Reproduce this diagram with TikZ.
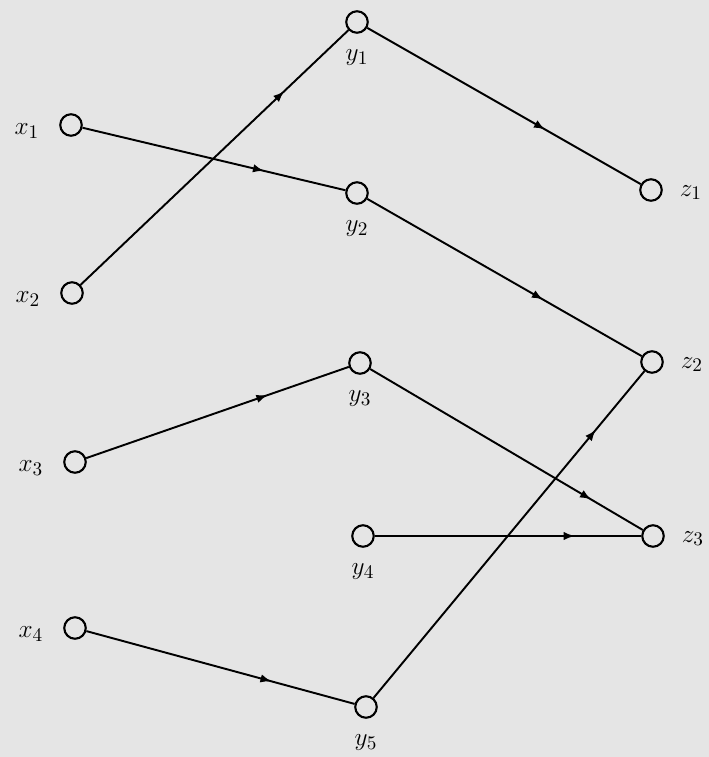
\documentclass[tikz,border=0pt]{standalone}
\usepackage{amsmath}
\usepackage{tikz}
\usetikzlibrary{positioning}
\usetikzlibrary{arrows.meta}
\usetikzlibrary{decorations.markings}

\begin{document}
\begin{tikzpicture}[
    x=0.02cm, y=-0.02cm,
    node distance=0.4cm,
    vertex/.style={draw, circle, line width=1.2pt, minimum size=0.43cm, inner sep=0pt, fill=black!10},
    tag/.style={inner sep=1pt, font=\fontsize{15}{18}\selectfont},
    flow/.style={line width=1.1pt, postaction={decorate},
      decoration={markings, mark=at position #1 with {\arrow{Latex[length=2.2mm,width=1.7mm]}}}},
    flow/.default=0.7
  ]
    % paper
    \fill[black!10] (0,0) rectangle (709,757);

    % first column
    \node[vertex] (x1) at (71,125) {};
    \node[vertex] (x2) at (72,293) {};
    \node[vertex] (x3) at (75,462) {};
    \node[vertex] (x4) at (75,628) {};

    % middle column
    \node[vertex] (y1) at (357,22) {};
    \node[vertex] (y2) at (357,193) {};
    \node[vertex] (y3) at (360,363) {};
    \node[vertex] (y4) at (363,536) {};
    \node[vertex] (y5) at (366,707) {};

    % last column
    \node[vertex] (z1) at (651,190) {};
    \node[vertex] (z2) at (652,362) {};
    \node[vertex] (z3) at (653,536) {};

    % names
    \node[tag, left=0.36cm of x1, yshift=-0.12cm] (lx1) {$x_1$};
    \node[tag, left=0.36cm of x2, yshift=-0.12cm] (lx2) {$x_2$};
    \node[tag, left=0.36cm of x3, yshift=-0.12cm] (lx3) {$x_3$};
    \node[tag, left=0.36cm of x4, yshift=-0.12cm] (lx4) {$x_4$};

    \node[tag, below=0.28cm of y1] (ly1) {$y_1$};
    \node[tag, below=0.28cm of y2] (ly2) {$y_2$};
    \node[tag, below=0.28cm of y3] (ly3) {$y_3$};
    \node[tag, below=0.28cm of y4] (ly4) {$y_4$};
    \node[tag, below=0.28cm of y5] (ly5) {$y_5$};

    \node[tag, right=0.3cm of z1, yshift=-0.05cm] (lz1) {$z_1$};
    \node[tag, right=0.3cm of z2, yshift=-0.05cm] (lz2) {$z_2$};
    \node[tag, right=0.3cm of z3, yshift=-0.05cm] (lz3) {$z_3$};

    % arcs
    \draw[flow=0.76] (x2) -- (y1);
    \draw[flow=0.69] (x1) -- (y2);
    \draw[flow=0.65] (y1) -- (z1);
    \draw[flow=0.64] (y2) -- (z2);
    \draw[flow=0.69] (x3) -- (y3);
    \draw[flow=0.69] (x4) -- (y5);
    \draw[flow=0.82] (y5) -- (z2);
    \draw[flow=0.81] (y3) -- (z3);
    \draw[flow=0.75] (y4) -- (z3);
\end{tikzpicture}
\end{document}
